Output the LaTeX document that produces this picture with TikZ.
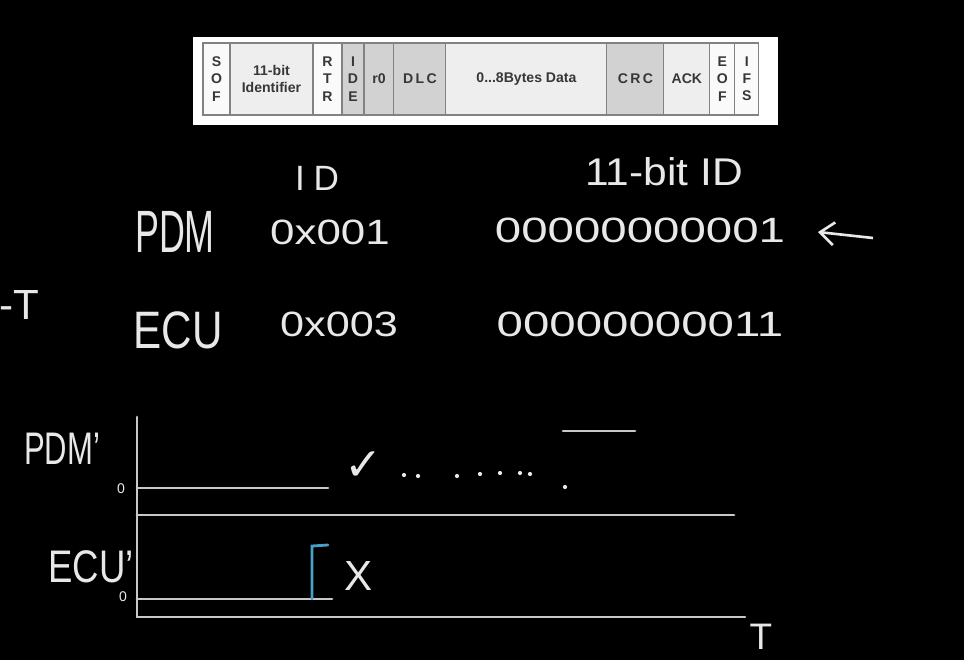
\documentclass[tikz,border=0pt]{standalone}
\usepackage{fontspec}
\setmainfont{Liberation Sans}
\newfontfamily\symfont{DejaVu Sans}
\usepackage{graphicx}
\definecolor{chalk}{RGB}{232, 232, 232}
\definecolor{wiregray}{RGB}{200, 200, 200}
\definecolor{cellwhite}{RGB}{250, 250, 250}
\definecolor{celllight}{RGB}{238, 238, 238}
\definecolor{cellmid}{RGB}{210, 210, 210}
\definecolor{cellline}{RGB}{130, 130, 130}
\definecolor{celltext}{RGB}{55, 55, 55}
\definecolor{penblue}{RGB}{70, 160, 200}
\usetikzlibrary{arrows.meta, positioning}

\begin{document}
\begin{tikzpicture}[x=0.02cm, y=-0.02cm,
  cell/.style={draw=cellline, line width=0.6pt, minimum height=1.44cm, inner sep=0pt, outer sep=0pt,
    align=center, text=celltext, font=\fontsize{8}{9.8}\selectfont\bfseries},
  hand/.style={text=chalk, inner sep=0pt},
  wire/.style={wiregray, line width=1.6pt, line cap=round}]
  \useasboundingbox (0, 0) rectangle (964, 660);
  \clip (0, 0) rectangle (964, 660);
  \fill[black] (0, 0) rectangle (964, 660);

  % frame layout
  \fill[white] (193, 37) rectangle (778, 125);
  \node[cell, fill=cellwhite, minimum width=0.54cm] (sof) at (216.5, 79) {S\\O\\F};
  \node[cell, fill=celllight, minimum width=1.66cm, right=0pt of sof] (ident) {11-bit\\Identifier};
  \node[cell, fill=cellwhite, minimum width=0.58cm, right=0pt of ident] (rtr) {R\\T\\R};
  \node[cell, fill=cellmid, minimum width=0.44cm, right=0pt of rtr] (ide) {I\\D\\E};
  \node[cell, fill=cellmid, minimum width=0.60cm, right=0pt of ide] (rzero) {r0};
  \node[cell, fill=cellmid, minimum width=1.04cm, right=0pt of rzero] (dlc) {D\,L\,C};
  \node[cell, fill=celllight, minimum width=3.22cm, right=0pt of dlc] (data) {0...8Bytes Data};
  \node[cell, fill=cellmid, minimum width=1.14cm, right=0pt of data] (crc) {C\,R\,C};
  \node[cell, fill=celllight, minimum width=0.92cm, right=0pt of crc] (ack) {ACK};
  \node[cell, fill=cellwhite, minimum width=0.50cm, right=0pt of ack] (eof) {E\\O\\F};
  \node[cell, fill=cellwhite, minimum width=0.48cm, right=0pt of eof] (ifs) {I\\F\\S};

  % IDs
  \node[hand, font=\fontsize{20}{20}\selectfont] (idhead) at (317, 178) {I\hspace{5pt}D};
  \node[hand, font=\fontsize{22}{22}\selectfont] (bithead) at (664, 172) {\scalebox{1.1}[1]{11-bit ID}};
  \node[hand, font=\fontsize{34}{34}\selectfont] (pdmname) at (175, 232) {\scalebox{0.6}[1]{PDM}};
  \node[hand, font=\fontsize{20}{20}\selectfont] (pdmhex) at (330, 232) {\scalebox{1.25}[1]{0x001}};
  \node[hand, font=\fontsize{20}{20}\selectfont] (pdmbin) at (640, 230) {\scalebox{1.35}[1]{00000000001}};
  \node[hand, font=\fontsize{24}{24}\selectfont] (minust) at (19, 305) {-T};
  \node[hand, font=\fontsize{30}{30}\selectfont] (ecuname) at (178, 330) {\scalebox{0.8}[1]{ECU}};
  \node[hand, font=\fontsize{20}{20}\selectfont] (ecuhex) at (339, 324) {\scalebox{1.23}[1]{0x003}};
  \node[hand, font=\fontsize{20}{20}\selectfont] (ecubin) at (640, 324) {\scalebox{1.35}[1]{00000000011}};

  \coordinate (arrtail) at (873, 238);
  \coordinate (arrtip) at (818, 232);
  \draw[chalk, line width=1.5pt, -{Straight Barb[length=8pt, width=13pt]}] (arrtail) -- (arrtip);

  % timing
  \draw[wire] (137, 417) -- (137, 617) -- (745, 617);
  \draw[wire] (137, 515) -- (734, 515);
  \draw[wire] (137, 488) -- (328, 488);
  \draw[wire] (137, 599) -- (332, 599);
  \draw[wire] (563, 431) -- (635, 431);
  \draw[penblue, line width=1.6pt, line cap=round] (312, 599) -- (312, 546) -- (328, 545);

  \node[hand, font=\fontsize{26}{26}\selectfont] (pdmsig) at (62, 449) {\scalebox{0.68}[1]{PDM'}};
  \node[hand, font=\fontsize{26}{26}\selectfont] (ecusig) at (91, 567) {\scalebox{0.8}[1]{ECU'}};
  \node[hand, font=\fontsize{8}{8}\selectfont] (pdmzero) at (121, 489) {0};
  \node[hand, font=\fontsize{8}{8}\selectfont] (ecuzero) at (123, 597) {0};
  \node[hand, font=\symfont\fontsize{26}{26}\selectfont] (tick) at (364, 466) {✓};
  \node[hand, font=\fontsize{24}{24}\selectfont] (cross) at (359, 576) {X};
  \node[hand, font=\fontsize{21}{21}\selectfont] (tlabel) at (761, 637) {T};

  % dots
  \fill[chalk] (404, 475) circle (1.2pt);
  \fill[chalk] (418, 476) circle (1.2pt);
  \fill[chalk] (457, 476) circle (1.2pt);
  \fill[chalk] (480, 474) circle (1.2pt);
  \fill[chalk] (500, 473) circle (1.2pt);
  \fill[chalk] (520, 473) circle (1.2pt);
  \fill[chalk] (530, 474) circle (1.2pt);
  \fill[chalk] (565, 487) circle (1.2pt);
\end{tikzpicture}
\end{document}
